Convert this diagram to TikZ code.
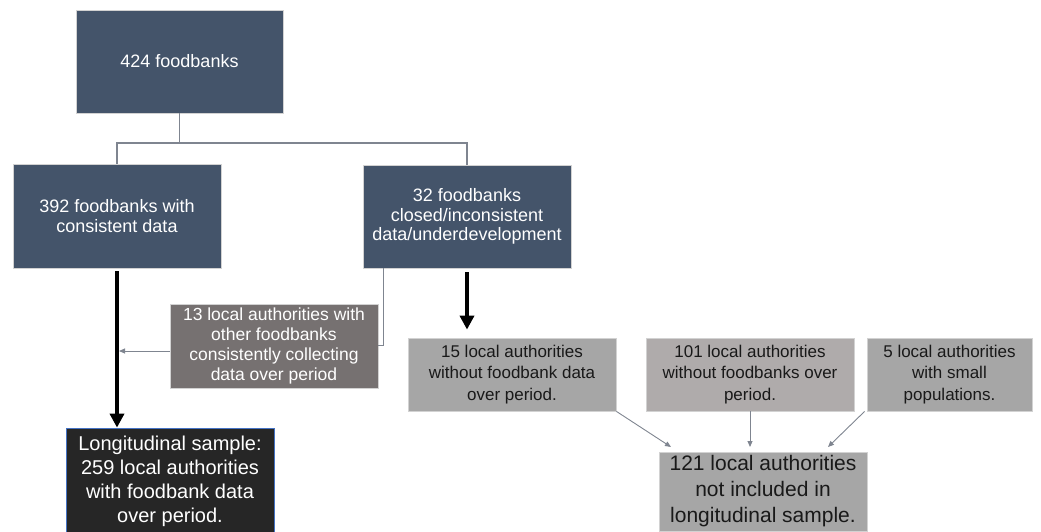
\documentclass[tikz,border=0pt]{standalone}
\usepackage{fontspec}
\setmainfont{Liberation Sans}
\usetikzlibrary{arrows.meta,calc}
\definecolor{slate}{HTML}{44546A}
\definecolor{taupe}{HTML}{767171}
\definecolor{midgray}{HTML}{A6A6A6}
\definecolor{warmgray}{HTML}{AFABAB}
\definecolor{nearblack}{HTML}{262626}
\definecolor{edgeblue}{HTML}{4472C4}
\definecolor{linegray}{HTML}{7F8590}
\tikzset{
  box/.style={rectangle, inner sep=0pt, align=center, draw=gray!35, line width=0.8pt},
  darkbox/.style={box, fill=slate, text=white, font=\fontsize{18}{19.6}\selectfont},
  brownbox/.style={box, fill=taupe, text=white, font=\fontsize{17.5}{20}\selectfont},
  greybox/.style={box, fill=midgray, text=black!90, font=\fontsize{17}{21.5}\selectfont},
  blackbox/.style={rectangle, inner sep=0pt, align=center, fill=nearblack, draw=edgeblue, line width=0.8pt, text=white, font=\fontsize{20}{24}\selectfont},
  treeline/.style={draw=linegray, line width=1.2pt},
  bigarrow/.style={draw=black, line width=4pt, -{Triangle[width=14pt,length=14pt]}},
  smallarrow/.style={draw=linegray, line width=0.9pt, -{Triangle[width=5pt,length=6pt]}}
}
\begin{document}
\begin{tikzpicture}[x=1pt,y=-1pt]
\useasboundingbox (0,0) rectangle (1041,532);
\clip (0,0) rectangle (1041,532);
% boxes
\node[darkbox, minimum width=207pt, minimum height=103pt] (b1) at (179.5,61.5) {424 foodbanks};
\node[darkbox, minimum width=208pt, minimum height=104pt] (b2) at (117,216) {392 foodbanks with\\consistent data};
\node[darkbox, minimum width=208pt, minimum height=103pt] (b3) at (467,216.5) {32 foodbanks\\closed/inconsistent\\data/underdevelopment};
\node[brownbox, minimum width=208pt, minimum height=84pt] (b13) at (274,346) {13 local authorities with\\other foodbanks\\consistently collecting\\data over period};
\node[blackbox, minimum width=208pt, minimum height=110pt] (bl) at (170,483) {};
\node[text=white, font=\fontsize{20}{24}\selectfont, align=center, inner sep=0pt] (blt) at (170,481) {Longitudinal sample:\\259 local authorities\\with foodbank data\\over period.};
\node[greybox, minimum width=208pt, minimum height=73pt] (b15) at (512,374.5) {15 local authorities\\without foodbank data\\over period.};
\node[greybox, fill=warmgray, minimum width=208pt, minimum height=73pt] (b101) at (750,374.5) {101 local authorities\\without foodbanks over\\period.};
\node[greybox, minimum width=165pt, minimum height=73pt] (b5) at (949.5,374.5) {5 local authorities\\with small\\populations.};
\node[greybox, font=\fontsize{21}{26}\selectfont, minimum width=208pt, minimum height=79pt] (b121) at (763,491.5) {121 local authorities\\not included in\\longitudinal sample.};
% tree connector
\coordinate (split) at (179.5,143);
\draw[treeline] (b1.south) -- (split);
\draw[treeline] (b2.north) |- (split) -| (b3.north);
% thick arrows
\draw[bigarrow, shorten <=3pt] (b2.south) -- (b2.south |- bl.north);
\draw[bigarrow, shorten <=4pt] (b3.south) -- ($(b3.south |- b15.north)+(0,-8)$);
% thin connector from 32 foodbanks to 13 box
\coordinate (c1) at (383,345);
\draw[treeline, line width=1pt] (b3.south -| c1) -- (c1) -- (b13.east |- c1);
% 13 box to main line
\coordinate (j13) at (119,351);
\draw[smallarrow] (b13.west |- j13) -- (j13);
% arrows into 121 box
\coordinate (t15) at (671,447);
\coordinate (t101) at (750,447);
\coordinate (t5) at (828,447);
\draw[smallarrow] (b15.south east) -- (t15);
\draw[smallarrow] (b101.south) -- (t101);
\draw[smallarrow] ($(b5.south west)+(-2,0)$) -- (t5);
\end{tikzpicture}
\end{document}
